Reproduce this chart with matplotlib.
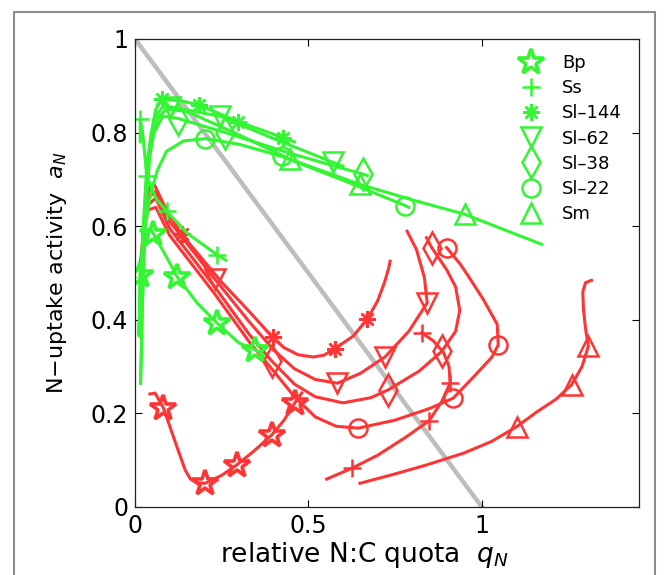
import matplotlib
matplotlib.use("Agg")
import matplotlib.pyplot as plt
from matplotlib.lines import Line2D
from matplotlib.patches import Rectangle

plt.rcParams['font.family'] = ['DejaVu Sans']
plt.rcParams['mathtext.fontset'] = 'dejavusans'

# species names, in legend order
species = ['Bp', 'Ss', 'Sl\u2013144', 'Sl\u201362', 'Sl\u201338', 'Sl\u201322', 'Sm']

# green curves: (q_N, a_N) points, marker indices alongside
g_bp = [(0.012, 0.365), (0.014, 0.496), (0.03, 0.565), (0.045, 0.595), (0.053, 0.584),
        (0.09, 0.535), (0.122, 0.491), (0.18, 0.435), (0.236, 0.393), (0.30, 0.35),
        (0.346, 0.336), (0.37, 0.325)]
g_bp_mk = [1, 4, 6, 8, 10]
g_ss = [(0.015, 0.78), (0.015, 0.828), (0.022, 0.80), (0.034, 0.707), (0.06, 0.66),
        (0.091, 0.632), (0.15, 0.585), (0.236, 0.539), (0.262, 0.527)]
g_ss_mk = [1, 3, 5, 7]
g_s144 = [(0.016, 0.264), (0.022, 0.45), (0.03, 0.65), (0.045, 0.79), (0.06, 0.85),
          (0.077, 0.871), (0.13, 0.868), (0.185, 0.859), (0.298, 0.823), (0.428, 0.789),
          (0.46, 0.78)]
g_s144_mk = [5, 7, 8, 9]
g_s62 = [(0.011, 0.37), (0.02, 0.55), (0.035, 0.74), (0.055, 0.83), (0.08, 0.855),
         (0.10, 0.855), (0.245, 0.835), (0.40, 0.787), (0.572, 0.736), (0.60, 0.728)]
g_s62_mk = [5, 6, 8]
g_s38 = [(0.011, 0.37), (0.02, 0.54), (0.035, 0.72), (0.055, 0.80), (0.08, 0.835),
         (0.125, 0.83), (0.26, 0.80), (0.45, 0.755), (0.658, 0.711), (0.67, 0.708)]
g_s38_mk = [5, 6, 8]
g_s22 = [(0.011, 0.37), (0.02, 0.5), (0.03, 0.6), (0.045, 0.67), (0.065, 0.72),
         (0.091, 0.76), (0.14, 0.782), (0.202, 0.787), (0.30, 0.775), (0.423, 0.749),
         (0.60, 0.698), (0.779, 0.644), (0.79, 0.64)]
g_s22_mk = [7, 9, 11]
g_sm = [(0.016, 0.264), (0.022, 0.45), (0.03, 0.63), (0.045, 0.77), (0.065, 0.83),
        (0.09, 0.85), (0.15, 0.845), (0.30, 0.795), (0.447, 0.743), (0.649, 0.689),
        (0.80, 0.656), (0.952, 0.625), (1.173, 0.561)]
g_sm_mk = [8, 9, 11]

# red curves
r_bp = [(0.043, 0.241), (0.058, 0.243), (0.082, 0.211), (0.12, 0.13), (0.145, 0.078),
        (0.16, 0.059), (0.178, 0.051), (0.202, 0.050), (0.25, 0.067), (0.293, 0.089),
        (0.34, 0.117), (0.394, 0.153), (0.43, 0.185), (0.461, 0.222), (0.481, 0.243)]
r_bp_mk = [2, 7, 9, 11, 13]
r_ss = [(0.553, 0.059), (0.625, 0.082), (0.70, 0.11), (0.78, 0.148), (0.849, 0.184),
        (0.885, 0.225), (0.909, 0.264), (0.906, 0.30), (0.89, 0.33), (0.86, 0.355),
        (0.827, 0.372)]
r_ss_mk = [1, 4, 6, 10]
r_s144 = [(0.016, 0.525), (0.03, 0.63), (0.045, 0.685), (0.055, 0.69), (0.09, 0.635),
          (0.135, 0.582), (0.25, 0.48), (0.33, 0.417), (0.397, 0.362), (0.43, 0.34),
          (0.47, 0.325), (0.514, 0.320), (0.545, 0.324), (0.577, 0.338), (0.630, 0.365),
          (0.670, 0.401), (0.70, 0.44), (0.72, 0.48), (0.732, 0.51), (0.736, 0.525)]
r_s144_mk = [5, 8, 13, 15]
r_s62 = [(0.045, 0.665), (0.06, 0.675), (0.10, 0.61), (0.231, 0.486), (0.33, 0.395),
         (0.40, 0.335), (0.46, 0.295), (0.52, 0.272), (0.584, 0.264), (0.65, 0.285),
         (0.721, 0.320), (0.79, 0.375), (0.843, 0.436), (0.835, 0.49), (0.812, 0.55),
         (0.785, 0.589)]
r_s62_mk = [3, 8, 10, 12]
r_s38 = [(0.045, 0.65), (0.06, 0.66), (0.10, 0.595), (0.23, 0.47), (0.33, 0.368),
         (0.394, 0.312), (0.46, 0.262), (0.52, 0.235), (0.60, 0.222), (0.68, 0.233),
         (0.731, 0.250), (0.82, 0.29), (0.885, 0.332), (0.925, 0.375), (0.937, 0.42),
         (0.925, 0.47), (0.899, 0.507), (0.856, 0.554), (0.841, 0.575)]
r_s38_mk = [5, 10, 12, 17]
r_s22 = [(0.04, 0.635), (0.06, 0.64), (0.10, 0.58), (0.23, 0.455), (0.33, 0.352),
         (0.40, 0.29), (0.46, 0.235), (0.52, 0.192), (0.58, 0.172), (0.644, 0.168),
         (0.75, 0.185), (0.85, 0.21), (0.918, 0.232), (0.98, 0.28), (1.03, 0.32),
         (1.048, 0.346), (1.045, 0.39), (1.005, 0.443), (0.96, 0.495), (0.937, 0.52),
         (0.899, 0.554)]
r_s22_mk = [9, 12, 15, 20]
r_sm = [(0.649, 0.050), (0.75, 0.070), (0.84, 0.089), (0.95, 0.115), (1.03, 0.14),
        (1.101, 0.171), (1.16, 0.203), (1.215, 0.23), (1.26, 0.261), (1.29, 0.30),
        (1.308, 0.343), (1.30, 0.38), (1.294, 0.421), (1.292, 0.46), (1.300, 0.479),
        (1.317, 0.484)]
r_sm_mk = [5, 8, 10]

green_sets = [(g_bp, g_bp_mk), (g_ss, g_ss_mk), (g_s144, g_s144_mk), (g_s62, g_s62_mk),
              (g_s38, g_s38_mk), (g_s22, g_s22_mk), (g_sm, g_sm_mk)]
red_sets = [(r_bp, r_bp_mk), (r_ss, r_ss_mk), (r_s144, r_s144_mk), (r_s62, r_s62_mk),
            (r_s38, r_s38_mk), (r_s22, r_s22_mk), (r_sm, r_sm_mk)]

# marker style per species (matlab-ish symbols)
markers = ['*', '+', (8, 2, 0), 'v', 'd', 'o', '^']
msizes = [19, 13, 12, 14, 16, 13, 14]
medges = [2.6, 1.8, 1.8, 1.8, 1.8, 1.8, 1.8]

green = '#33f533'
red = '#ff3535'

fig = plt.figure(figsize=(6.69, 5.75), dpi=100)
fig.patches.append(Rectangle((14 / 669, -0.1), (655 - 14) / 669, 1.1 - 12 / 575,
                             transform=fig.transFigure, fill=False,
                             edgecolor='#8c8c8c', linewidth=1.5))
ax = fig.add_axes([135 / 669, 68.3 / 575, 504.3 / 669, 467.7 / 575])

# the q + a = 1 line
ax.plot([0, 1], [1, 0], color='#bdbdbd', linewidth=3.2, zorder=1)

for sets, col in [(red_sets, red), (green_sets, green)]:
    for (pts, mk), m, ms, mew in zip(sets, markers, msizes, medges):
        q = [p[0] for p in pts]
        a = [p[1] for p in pts]
        ax.plot(q, a, color=col, linewidth=2.2, marker=m, markersize=ms,
                markevery=mk, markerfacecolor='none', markeredgecolor=col,
                markeredgewidth=mew, solid_joinstyle='round', zorder=2)

ax.set_xlim(0, 1.455)
ax.set_ylim(0, 1)
ax.set_xticks([0, 0.5, 1])
ax.set_xticklabels(['0', '0.5', '1'])
ax.set_yticks([0, 0.2, 0.4, 0.6, 0.8, 1])
ax.set_yticklabels(['0', '0.2', '0.4', '0.6', '0.8', '1'])
ax.tick_params(direction='in', length=5, width=0.8, top=True, right=True,
               labelsize=17, pad=5)
for s in ax.spines.values():
    s.set_linewidth(0.9)
    s.set_color('#222222')

ax.set_xlabel('relative N:C quota  $q_N$', fontsize=19)
ax.xaxis.set_label_coords(0.454, -0.072)
ax.set_ylabel('N\u2212uptake activity  $a_N$', fontsize=16)
ax.yaxis.set_label_coords(-0.13, 0.5)

handles = [Line2D([], [], linestyle='none', marker=m, markersize=ms, color=green,
                  markerfacecolor='none', markeredgewidth=mew)
           for m, ms, mew in zip(markers, msizes, medges)]
ax.legend(handles, species, loc='upper left', bbox_to_anchor=(0.757, 0.976),
          frameon=False, fontsize=13, handlelength=1.2, handletextpad=1.1,
          labelspacing=0.4, borderpad=0.2, borderaxespad=0)

fig.savefig('out.png', dpi=100)
